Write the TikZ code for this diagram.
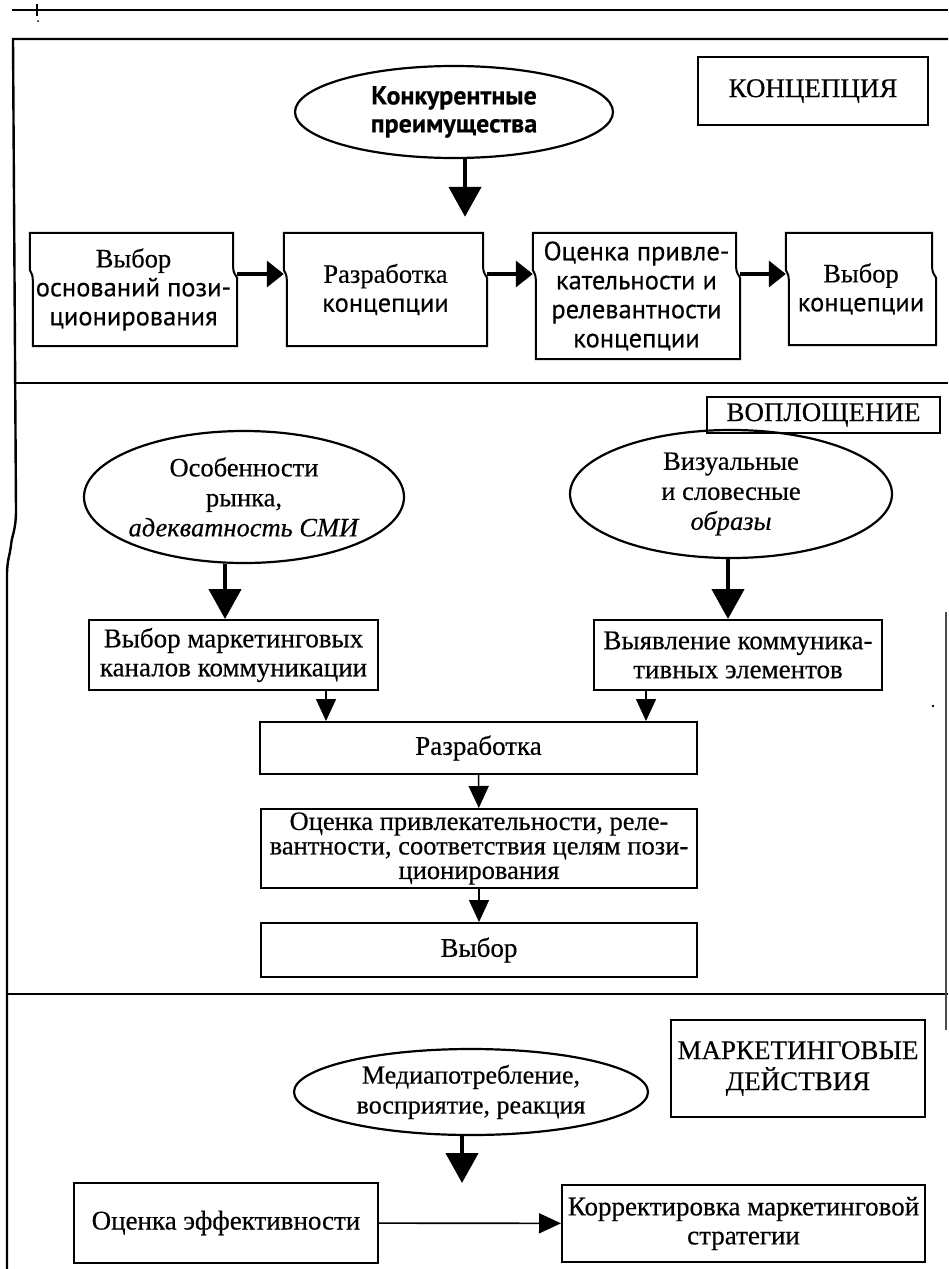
\documentclass[tikz,border=0pt]{standalone}
\usepackage{fontspec}
\setmainfont{Liberation Serif}[FakeBold=0.4]
\newfontfamily\rowsans{PT Sans}[FakeBold=0.3]
\usetikzlibrary{arrows.meta,shapes.geometric,calc}

% first word of a first-row box
\newcommand\leadword{\rmfamily\fontsize{26.5}{28}\selectfont}

% box with slightly torn side edges (first row of the scheme)
\newcommand\tornbox[1]{%
  \draw[boxline]
    (#1.north west) -- ($(#1.north east)+(-4,0)$)
    -- ($(#1.north east |- kinky)+(-4,-6)$)
       .. controls +(0,4) and +(-2,-3) .. ($(#1.north east |- kinky)+(0,4)$)
    -- (#1.south east) -- ($(#1.south west)+(3,0)$)
    -- ($(#1.north west |- kinky)+(3,6)$)
       .. controls +(0,-4) and +(2,3) .. ($(#1.north west |- kinky)+(0,-4)$)
    -- cycle;}

\begin{document}
\begin{tikzpicture}[x=1pt,y=-1pt,
  frame/.style={line width=2.4pt},
  boxline/.style={line width=2pt, line join=miter},
  box/.style={draw, line width=2pt, rectangle, inner sep=0pt, align=center,
    font=\fontsize{27}{29}\selectfont},
  title/.style={draw, line width=2pt, rectangle, inner sep=0pt, align=center,
    font=\fontsize{27}{31}\selectfont},
  rowbox/.style={rectangle, inner sep=0pt, align=center,
    font=\rowsans\fontsize{26.5}{29}\selectfont},
  oval/.style={draw, ellipse, line width=2.2pt, inner xsep=-20pt, inner ysep=-6pt,
    align=center, font=\fontsize{26.5}{30}\selectfont},
  heavy/.style={line width=4.5pt, -{Triangle[length=30pt,width=32pt]}},
  light/.style={line width=1.6pt, -{Triangle[length=22pt,width=20pt]}},
  rowarrow/.style={line width=3.5pt, -{Triangle[length=17pt,width=26pt]}}
]
\useasboundingbox (0,0) rectangle (948,1269);
\fill[white] (0,0) rectangle (948,1269);

% ---------- page rules and frame ----------
\draw[line width=2pt] (12,10) -- (948,10);
\draw[line width=1.2pt] (37,4) -- (37,16);
\fill (38,21) circle (1pt);
\draw[frame] (948,39) -- (13,39) -- (16,510)
  .. controls (16,530) and (12,535) .. (11,545)
  .. controls (10,555) and (7,560) .. (7,575) -- (7,1269);
\draw[frame] (16,383) -- (948,383);
\draw[frame] (7,994) -- (948,994);
\draw[line width=1.3pt, black!70] (946,612) -- (946,1030);
\fill (933,706) circle (1.3pt);

% ---------- КОНЦЕПЦИЯ ----------
\node[title, minimum width=230pt, minimum height=68pt] (tconc) at (813,91) {КОНЦЕПЦИЯ};
\node[oval, minimum width=318pt, minimum height=92pt,
      font=\rowsans\bfseries\fontsize{26}{28}\selectfont] (adv) at (454,112)
  {Конкурентные\\преимущества};

\coordinate (kinky) at (0,274);
\node[rowbox, minimum width=207pt, minimum height=113pt] (choosebase) at (133.5,289.5)
  {{\leadword Выбор}\\оснований пози-\\ционирования};
\node[rowbox, minimum width=203pt, minimum height=113pt] (devconc) at (385.5,289.5)
  {{\leadword Разработка}\\концепции};
\node[rowbox, minimum width=207pt, minimum height=126pt] (evalconc) at (636.5,296)
  {Оценка привле-\\кательности и\\релевантности\\концепции};
\node[rowbox, minimum width=150pt, minimum height=112pt] (pickconc) at (861,289)
  {{\leadword Выбор}\\концепции};
\tornbox{choosebase}
\tornbox{devconc}
\tornbox{evalconc}
\tornbox{pickconc}

\coordinate (advx) at (465,0);
\draw[heavy] (adv.south -| advx) -- ($(devconc.north -| advx)+(0,-16)$);
\draw[rowarrow] (choosebase.east |- kinky) -- (devconc.west |- kinky);
\draw[rowarrow] (devconc.east |- kinky) -- (evalconc.west |- kinky);
\draw[rowarrow] (evalconc.east |- kinky) -- (pickconc.west |- kinky);

% ---------- ВОПЛОЩЕНИЕ ----------
\node[title, minimum width=233pt, minimum height=36pt] (timpl) at (823.5,415) {ВОПЛОЩЕНИЕ};
\node[oval, minimum width=320pt, minimum height=132pt] (market) at (244,497)
  {Особенности\\рынка,\\\textit{адекватность СМИ}};
\node[oval, minimum width=322pt, minimum height=128pt] (images) at (731,494)
  {Визуальные\\и словесные\\\textit{образы}};
\node[box, minimum width=289pt, minimum height=70pt] (channels) at (233.5,655)
  {Выбор маркетинговых\\каналов коммуникации};
\node[box, minimum width=288pt, minimum height=70pt] (elements) at (738,655)
  {Выявление коммуника-\\тивных элементов};
\node[box, minimum width=437pt, minimum height=52pt] (devel) at (478.5,748) {Разработка};
\node[box, minimum width=436pt, minimum height=79pt, font=\fontsize{26.5}{24.5}\selectfont]
  (evalimpl) at (479,848.5)
  {Оценка привлекательности, реле-\\вантности, соответствия целям пози-\\ционирования};
\node[box, minimum width=436pt, minimum height=54pt] (choice) at (479,950) {Выбор};

\coordinate (mx) at (225,0);
\coordinate (ix) at (728,0);
\coordinate (cx) at (326,0);
\coordinate (ex) at (646,0);
\draw[heavy] (market.south -| mx) -- (channels.north -| mx);
\draw[heavy] (images.south -| ix) -- (elements.north -| ix);
\draw[light] (channels.south -| cx) -- (devel.north -| cx);
\draw[light] (elements.south -| ex) -- (devel.north -| ex);
\draw[light] (devel) -- (evalimpl);
\draw[light] (evalimpl) -- (choice);

% ---------- МАРКЕТИНГОВЫЕ ДЕЙСТВИЯ ----------
\node[title, minimum width=254pt, minimum height=97pt] (tact) at (798,1068.5)
  {МАРКЕТИНГОВЫЕ\\ДЕЙСТВИЯ};
\node[oval, minimum width=354pt, minimum height=86pt, font=\fontsize{26}{30}\selectfont]
  (media) at (471,1092) {Медиапотребление,\\восприятие, реакция};
\node[box, minimum width=304pt, minimum height=80pt] (effect) at (226,1223) {Оценка эффективности};
\node[box, minimum width=363pt, minimum height=77pt] (correct) at (743.5,1223.5)
  {Корректировка маркетинговой\\стратегии};
\coordinate (mediatip) at (462,1183);
\draw[heavy] (media.south -| mediatip) -- (mediatip);
\draw[light] (effect) -- (correct);
\end{tikzpicture}
\end{document}
